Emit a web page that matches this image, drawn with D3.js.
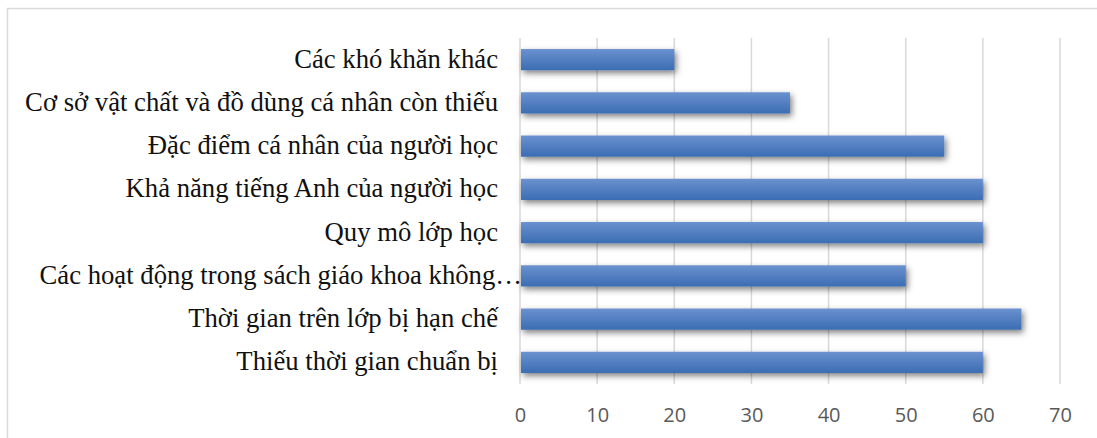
<!DOCTYPE html>
<html>
<head>
<meta charset="utf-8">
<script src="https://cdn.jsdelivr.net/npm/d3@7"></script>
<style>
  body { margin: 0; background: #fff; }
</style>
</head>
<body>
<svg id="chart" width="1097" height="438"></svg>
<script>
// categories, top to bottom as drawn
const categories = [
    "Các khó khăn khác",
    "Cơ sở vật chất và đồ dùng cá nhân còn thiếu",
    "Đặc điểm cá nhân của người học",
    "Khả năng tiếng Anh của người học",
    "Quy mô lớp học",
    "Các hoạt động trong sách giáo khoa không…",
    "Thời gian trên lớp bị hạn chế",
    "Thiếu thời gian chuẩn bị"
];
const values = [20, 35, 55, 60, 60, 50, 65, 60];
const xTicks = [0, 10, 20, 30, 40, 50, 60, 70];

const svg = d3.select("#chart");

// chart border (right side runs off the picture)
svg.append("rect")
    .attr("x", 7.5).attr("y", 8.5)
    .attr("width", 1100).attr("height", 440)
    .attr("fill", "none")
    .attr("stroke", "#d9d9d9")
    .attr("stroke-width", 1.5);

const x = d3.scaleLinear().domain([0, 70]).range([520, 1060]);
const y = d3.scaleBand().domain(categories).range([38, 384]).paddingInner(0.51).paddingOuter(0.255);

const defs = svg.append("defs");
const grad = defs.append("linearGradient")
    .attr("id", "barGrad")
    .attr("x1", 0).attr("y1", 0).attr("x2", 0).attr("y2", 1);
grad.append("stop").attr("offset", "0%").attr("stop-color", "#6b91cf");
grad.append("stop").attr("offset", "100%").attr("stop-color", "#3b6db3");

const shadow = defs.append("filter")
    .attr("id", "barShadow")
    .attr("x", "-5%").attr("y", "-40%")
    .attr("width", "115%").attr("height", "200%");
shadow.append("feDropShadow")
    .attr("dx", 2).attr("dy", 3)
    .attr("stdDeviation", 3)
    .attr("flood-color", "#000")
    .attr("flood-opacity", 0.5);

// vertical gridlines
svg.append("g")
    .selectAll("line")
    .data(xTicks)
    .join("line")
    .attr("x1", d => x(d)).attr("x2", d => x(d))
    .attr("y1", 38).attr("y2", 384)
    .attr("stroke", "#d9d9d9")
    .attr("stroke-width", 1.5);

// bars
svg.append("g")
    .selectAll("rect")
    .data(values)
    .join("rect")
    .attr("x", x(0) + 1)
    .attr("y", (d, i) => y(categories[i]))
    .attr("width", d => x(d) - x(0) - 1)
    .attr("height", y.bandwidth())
    .attr("fill", "url(#barGrad)")
    .attr("filter", "url(#barShadow)");

// category labels
svg.append("g")
    .selectAll("text")
    .data(categories)
    .join("text")
    .attr("x", d => d.endsWith("…") ? 522 : 498)
    .attr("y", d => y(d) + y.bandwidth() / 2)
    .attr("dy", "0.3em")
    .attr("text-anchor", "end")
    .attr("font-family", "'Liberation Serif', 'Times New Roman', serif")
    .attr("font-size", 26.7)
    .attr("fill", "#111")
    .text(d => d);

// x axis tick labels
const xAxis = d3.axisBottom(x).tickValues(xTicks).tickSize(0).tickPadding(0);
const ax = svg.append("g")
    .attr("transform", "translate(0, 408)")
    .call(xAxis);
ax.select(".domain").remove();
ax.selectAll("text")
    .attr("font-family", "'Open Sans', sans-serif")
    .attr("font-size", 20)
    .attr("fill", "#595959");
</script>
</body>
</html>
